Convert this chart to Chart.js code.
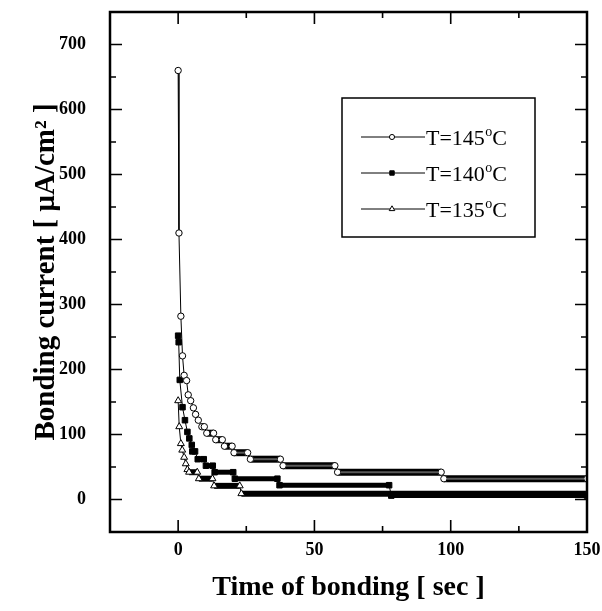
<!DOCTYPE html>
<html>
<head>
<meta charset="utf-8">
<script src="https://cdn.jsdelivr.net/npm/chart.js@4.4.1/dist/chart.umd.min.js"></script>
<style>
  body { margin: 0; background: #fff; }
</style>
</head>
<body>
<canvas id="chart" width="602" height="611"></canvas>
<script>
// readings taken off the figure; plateaus are given by their first and last sample
const legendLabels = ["T=145", "T=140", "T=135"];

const time145 = [0, 0.3, 1, 1.6, 2.2, 3.1, 3.7, 4.6, 5.6, 6.4, 7.4, 8.7, 9.6, 10.5, 13, 13.8, 16.2, 17, 19.8, 20.5, 25.5, 26.5, 37.5, 38.5, 57.5, 58.5, 96.5, 97.5, 150];
const current145 = [660, 410, 282, 221, 191, 183, 161, 152, 141, 131, 122, 112, 112, 102, 102, 92, 92, 82, 82, 72, 72, 62, 62, 52, 52, 42, 42, 32, 32];

const time140 = [0, 0.2, 0.6, 1.6, 2.5, 3.4, 4.1, 5, 5.2, 6.2, 7.2, 9.4, 10.2, 12.7, 13.4, 20.2, 20.8, 36.4, 37.2, 77.4, 78.2, 150];
const current140 = [252, 242, 184, 142, 122, 104, 94, 84, 74, 74, 62, 62, 52, 52, 42, 42, 32, 32, 22, 22, 6, 6];

const time135 = [0, 0.4, 1, 1.5, 2.2, 2.8, 3.4, 4, 7, 7.6, 12.6, 13.2, 22.6, 23.2, 150];
const current135 = [152, 112, 86, 76, 65, 55, 46, 42, 42, 32, 32, 21, 21, 9, 9];

const xTicks = [0, 50, 100, 150];
const xMinorTicks = [-25, 25, 75, 125];
const yTicks = [0, 100, 200, 300, 400, 500, 600, 700];
const yMinorTicks = [50, 150, 250, 350, 450, 550, 650];

const serif = "'Liberation Serif', 'Times New Roman', serif";

function toPoints(xs, ys) {
  return xs.map((x, i) => ({ x: x, y: ys[i] }));
}

// flat runs of samples are drawn as a thick band, like the overlapping markers
function bandWidth(w) {
  return ctx => (ctx.p0.parsed.y === ctx.p1.parsed.y ? w : 1);
}

const markers = [
  { style: "circle", radius: 3.2, fill: "#fff" },
  { style: "rect", radius: 3.9, fill: "#000" },
  { style: "triangle", radius: 4, fill: "#fff" }
];

const frameAndTicks = {
  id: "frameAndTicks",
  afterDatasetsDraw(chart) {
    // lighter core inside the open-circle bands
    const meta = chart.getDatasetMeta(0);
    const c = chart.ctx;
    c.save();
    c.strokeStyle = "#5a5a5a";
    c.lineWidth = 2;
    for (let i = 0; i < current145.length - 1; i++) {
      if (current145[i] !== current145[i + 1]) continue;
      const a = meta.data[i], b = meta.data[i + 1];
      if (b.x - a.x < 8) continue;
      c.beginPath();
      c.moveTo(a.x + 3, a.y);
      c.lineTo(b.x - 3, b.y);
      c.stroke();
    }
    c.restore();
  },
  afterDraw(chart) {
    const c = chart.ctx;
    const { left, right, top, bottom } = chart.chartArea;
    const xs = chart.scales.x, ys = chart.scales.y;
    c.save();
    c.strokeStyle = "#000";
    c.lineWidth = 1.6;
    c.beginPath();
    const tickX = (v, len) => {
      const p = xs.getPixelForValue(v);
      c.moveTo(p, bottom); c.lineTo(p, bottom - len);
      c.moveTo(p, top); c.lineTo(p, top + len);
    };
    const tickY = (v, len) => {
      const p = ys.getPixelForValue(v);
      c.moveTo(left, p); c.lineTo(left + len, p);
      c.moveTo(right, p); c.lineTo(right - len, p);
    };
    xTicks.forEach(v => tickX(v, 12));
    xMinorTicks.forEach(v => tickX(v, 6));
    yTicks.forEach(v => tickY(v, 12));
    yMinorTicks.forEach(v => tickY(v, 6));
    c.stroke();
    c.lineWidth = 2.5;
    c.strokeRect(left, top, right - left, bottom - top);

    // legend box
    const bx = 342, by = 98, bw = 193, bh = 139;
    c.lineWidth = 1.5;
    c.strokeRect(bx, by, bw, bh);
    const rows = [137, 173, 209];
    rows.forEach((ry, i) => {
      c.lineWidth = 1;
      c.strokeStyle = "#000";
      c.beginPath();
      c.moveTo(361, ry); c.lineTo(425, ry);
      c.stroke();
      const m = markers[i];
      const r = m.radius * 0.8;
      c.fillStyle = m.fill;
      c.beginPath();
      if (m.style === "circle") {
        c.arc(392, ry, r, 0, Math.PI * 2);
      } else if (m.style === "rect") {
        const s = r * Math.SQRT1_2;
        c.rect(392 - s, ry - s, 2 * s, 2 * s);
      } else {
        c.moveTo(392, ry - r);
        c.lineTo(392 + r * 0.87, ry + r * 0.5);
        c.lineTo(392 - r * 0.87, ry + r * 0.5);
        c.closePath();
      }
      c.fill();
      c.stroke();

      c.fillStyle = "#000";
      c.textBaseline = "alphabetic";
      c.textAlign = "left";
      c.font = "22px " + serif;
      const base = ry + 8;
      c.fillText(legendLabels[i], 426, base);
      let tx = 426 + c.measureText(legendLabels[i]).width;
      c.font = "14px " + serif;
      c.fillText("o", tx + 0.5, base - 9);
      tx += c.measureText("o").width + 0.5;
      c.font = "22px " + serif;
      c.fillText("C", tx, base);
    });
    c.restore();
  }
};

function makeSet(label, xs, ys, idx, w) {
  const m = markers[idx];
  return {
    label: label,
    data: toPoints(xs, ys),
    borderColor: "#000",
    borderWidth: 1,
    pointStyle: m.style,
    pointRadius: m.radius,
    pointBackgroundColor: m.fill,
    pointBorderColor: "#000",
    pointBorderWidth: 1,
    tension: 0,
    segment: { borderWidth: bandWidth(w) }
  };
}

new Chart(document.getElementById("chart"), {
  type: "line",
  data: {
    datasets: [
      makeSet(legendLabels[0], time145, current145, 0, 7),
      makeSet(legendLabels[1], time140, current140, 1, 5),
      makeSet(legendLabels[2], time135, current135, 2, 6)
    ]
  },
  options: {
    responsive: false,
    animation: false,
    layout: { padding: 0 },
    plugins: { legend: { display: false }, tooltip: { enabled: false } },
    scales: {
      x: {
        type: "linear",
        min: -25,
        max: 150,
        afterBuildTicks: s => { s.ticks = xTicks.map(v => ({ value: v })); },
        afterFit: s => { s.height = 79; s.paddingLeft = 0; s.paddingRight = 15; },
        grid: { display: false, drawTicks: false },
        border: { display: false },
        ticks: { padding: 8, color: "#000", font: { family: serif, size: 18, weight: "bold" } },
        title: {
          display: true,
          text: "Time of bonding [ sec ]",
          color: "#000",
          font: { family: serif, size: 28, weight: "bold" },
          padding: { top: 0, bottom: 6 }
        }
      },
      y: {
        min: -50,
        max: 750,
        afterBuildTicks: s => { s.ticks = yTicks.map(v => ({ value: v })); },
        afterFit: s => { s.width = 110; s.paddingTop = 12; s.paddingBottom = 0; },
        grid: { display: false, drawTicks: false },
        border: { display: false },
        ticks: { padding: 24, color: "#000", font: { family: serif, size: 18, weight: "bold" } },
        title: {
          display: true,
          text: "Bonding current [ μA/cm² ]",
          color: "#000",
          font: { family: serif, size: 29, weight: "bold" },
          padding: { top: 29, bottom: 0 }
        }
      }
    }
  },
  plugins: [frameAndTicks]
});
</script>
</body>
</html>
